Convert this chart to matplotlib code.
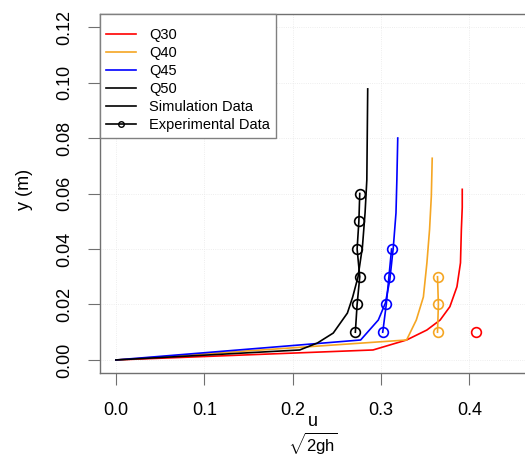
import matplotlib
matplotlib.use("Agg")
from matplotlib import pyplot as plt
from matplotlib.lines import Line2D

plt.rcParams['font.family'] = ['Liberation Sans', 'DejaVu Sans']
plt.rcParams['mathtext.fontset'] = 'custom'
plt.rcParams['mathtext.rm'] = 'Liberation Sans'
plt.rcParams['mathtext.it'] = 'Liberation Sans'
plt.rcParams['mathtext.default'] = 'regular'

# simulation curves (u / sqrt(2gh), y)
sim_q30_x = [0.0, 0.291, 0.329, 0.352, 0.367, 0.378, 0.386, 0.390, 0.391, 0.392, 0.392]
sim_q30_y = [0.0, 0.0036, 0.0072, 0.0108, 0.0144, 0.0192, 0.0264, 0.035, 0.047, 0.055, 0.0615]
sim_q40_x = [0.0, 0.329, 0.340, 0.348, 0.352, 0.355, 0.357, 0.358]
sim_q40_y = [0.0, 0.0072, 0.0144, 0.0227, 0.035, 0.047, 0.059, 0.0727]
sim_q45_x = [0.0, 0.277, 0.297, 0.305, 0.310, 0.314, 0.317, 0.318, 0.319]
sim_q45_y = [0.0, 0.0072, 0.0144, 0.0205, 0.0288, 0.0407, 0.053, 0.065, 0.080]
sim_q50_x = [0.0, 0.208, 0.228, 0.246, 0.262, 0.268, 0.274, 0.279, 0.282, 0.284, 0.285]
sim_q50_y = [0.0, 0.0036, 0.0061, 0.0097, 0.0169, 0.0227, 0.0299, 0.0407, 0.053, 0.0649, 0.0977]

# experimental data
exp_q30_x = [0.407]
exp_q30_y = [0.01]
exp_q40_x = [0.364, 0.365, 0.364]
exp_q40_y = [0.01, 0.02, 0.03]
exp_q45_x = [0.302, 0.306, 0.309, 0.312]
exp_q45_y = [0.01, 0.02, 0.03, 0.04]
exp_q50_x = [0.271, 0.273, 0.276, 0.273, 0.275, 0.276]
exp_q50_y = [0.01, 0.02, 0.03, 0.04, 0.05, 0.06]

labels = ["Q30", "Q40", "Q45", "Q50"]
colors = ["#FF0000", "#F5A623", "#0000FF", "#000000"]
x_ticks = [0.0, 0.1, 0.2, 0.3, 0.4]
y_ticks = [0.00, 0.02, 0.04, 0.06, 0.08, 0.10, 0.12]

fig = plt.figure(figsize=(5.25, 4.59), dpi=100)
ax = fig.add_axes([100 / 525, 86 / 459, 440 / 525, 359 / 459])

sims = [(sim_q30_x, sim_q30_y), (sim_q40_x, sim_q40_y), (sim_q45_x, sim_q45_y), (sim_q50_x, sim_q50_y)]
exps = [(exp_q30_x, exp_q30_y), (exp_q40_x, exp_q40_y), (exp_q45_x, exp_q45_y), (exp_q50_x, exp_q50_y)]
for (sx, sy), (ex, ey), c in zip(sims, exps, colors):
    ax.plot(sx, sy, color=c, lw=1.2)
    ax.plot(ex, ey, color=c, lw=1.2, marker="o", ms=7, mfc="none", mew=1.2)

ax.set_xlim(-0.018, 0.480)
ax.set_ylim(-0.0047, 0.1247)
ax.set_xticks(x_ticks)
ax.set_xticklabels(["%.1f" % v for v in x_ticks])
ax.set_yticks(y_ticks)
ax.set_yticklabels(["%.2f" % v for v in y_ticks], rotation=90, va="center")
ax.grid(True, color="#e8e8e8", lw=0.6, ls=":")
ax.set_axisbelow(True)

for s in ["left", "bottom", "top"]:
    ax.spines[s].set_color("#707070")
    ax.spines[s].set_linewidth(1.0)
ax.spines["right"].set_visible(False)
ax.tick_params(axis="both", direction="out", length=8.6, width=0.8, color="#707070", labelsize=13)
ax.tick_params(axis="x", pad=12)
ax.tick_params(axis="y", pad=11)

ax.set_ylabel("y (m)", fontsize=13)
ax.yaxis.set_label_coords(-0.152, 0.51)

# x label written as a fraction: u over sqrt(2gh)
fig.text(313 / 525, 1 - 421 / 459, "u", ha="center", va="center", fontsize=13)
fig.text(313 / 525, 1 - 444 / 459, r"$\sqrt{2gh}$", ha="center", va="center", fontsize=12)

handles = [Line2D([], [], color=c, lw=1.2) for c in colors]
handles.append(Line2D([], [], color="black", lw=1.2))
handles.append(Line2D([], [], color="black", lw=1.2, marker="o", ms=4, mfc="none", mew=1.0))
leg = ax.legend(handles, labels + ["Simulation Data", "Experimental Data"],
                loc="upper left", bbox_to_anchor=(0, 1), borderaxespad=0,
                fontsize=10.5, frameon=True, fancybox=False, framealpha=1,
                edgecolor="#808080", handlelength=2.1, handletextpad=0.85,
                labelspacing=0.28, borderpad=0.4, title=" ", title_fontsize=3)
leg.get_frame().set_linewidth(1.0)

fig.savefig("out.png", dpi=100)
